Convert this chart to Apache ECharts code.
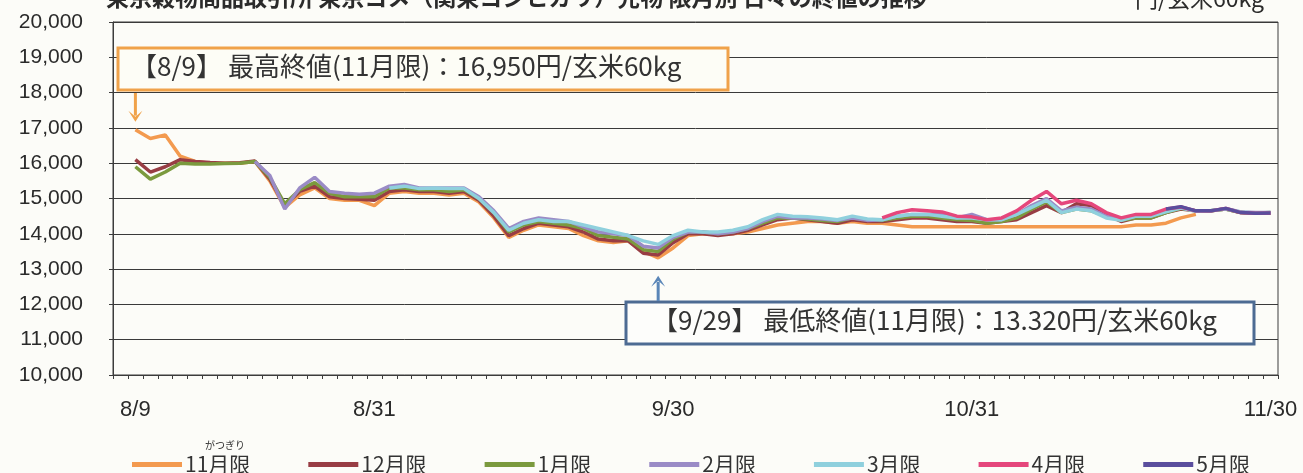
<!DOCTYPE html>
<html>
<head>
<meta charset="utf-8">
<script src="https://cdn.jsdelivr.net/npm/echarts@6/dist/echarts.min.js"></script>
<style>
  html, body { margin: 0; padding: 0; background: #fcfcf8; }
  #chart { width: 1303px; height: 473px; }
</style>
</head>
<body>
<div id="chart"></div>
<script>
// Trading days, 2011 (8/8 opens the axis with no close yet)
const dates = [
  '8/8','8/9','8/10','8/11','8/12','8/15','8/16','8/17','8/18','8/19',
  '8/22','8/23','8/24','8/25','8/26','8/29','8/30','8/31',
  '9/1','9/2','9/5','9/6','9/7','9/8','9/9','9/12','9/13','9/14','9/15','9/16',
  '9/20','9/21','9/22','9/26','9/27','9/28','9/29','9/30',
  '10/3','10/4','10/5','10/6','10/7','10/11','10/12','10/13','10/14',
  '10/17','10/18','10/19','10/20','10/21','10/24','10/25','10/26','10/27','10/28','10/31',
  '11/1','11/2','11/4','11/7','11/8','11/9','11/10','11/11','11/14','11/15','11/16',
  '11/17','11/18','11/21','11/22','11/24','11/25','11/28','11/29','11/30'
];
const tickLabels = ['8/9', '8/31', '9/30', '10/31', '11/30'];
const yTicks = { min: 10000, max: 20000, step: 1000 };

// Closing prices (円/玄米60kg) by contract month; each list starts at the given date
const nov = { start: '8/9', values: [
  16950,16700,16800,16200,16050,16000,16000,16000,16050,
  15500,14750,15100,15300,15000,14950,14950,14800,
  15150,15200,15150,15150,15100,15150,14900,14450,13900,14100,14250,14200,
  14150,13950,13800,13750,13800,13500,13320,13600,
  13950,14000,13980,14000,14050,14150,14250,14300,14350,
  14350,14300,14350,14300,14300,14250,14200,14200,14200,14200,14200,
  14200,14200,14200,14200,14200,14200,14200,14200,14200,14200,14250,
  14250,14300,14450,14550
]};
const dec = { start: '8/9', values: [
  16100,15750,15900,16100,16050,16020,16000,16010,16060,
  15550,14800,15200,15350,15050,15000,14980,14950,
  15200,15250,15200,15200,15150,15200,14950,14500,13950,14150,14300,14250,
  14200,14050,13850,13800,13800,13450,13400,13750,
  14000,14000,13950,14000,14100,14250,14400,14450,14400,
  14350,14300,14400,14350,14350,14400,14450,14450,14400,14350,14350,
  14300,14350,14400,14600,14800,14600,14850,14800,14550,14350,14450,
  14450,14600,14700,14650,14650,14700,14600,14580,14580
]};
const jan = { start: '8/9', values: [
  15900,15550,15750,16000,15980,15980,15990,16000,16050,
  15600,14850,15250,15450,15150,15050,15050,15050,
  15300,15300,15250,15250,15200,15250,15000,14600,14050,14250,14350,14300,
  14250,14150,13950,13900,13850,13550,13500,13850,
  14050,14050,14000,14050,14150,14300,14450,14450,14420,
  14380,14350,14450,14400,14380,14450,14500,14500,14450,14400,14380,
  14300,14350,14450,14700,14900,14600,14700,14650,14500,14380,14450,
  14450,14600,14720,14650,14650,14700,14600,14580,14600
]};
const feb = { start: '8/19', values: [
  16050,
  15650,14700,15300,15600,15200,15150,15120,15150,
  15350,15400,15300,15300,15300,15300,15050,14650,14150,14350,14450,14400,
  14350,14200,14050,14000,13950,13650,13600,13900,
  14050,14050,14000,14050,14150,14350,14500,14450,14450,
  14420,14380,14450,14380,14400,14500,14550,14550,14550,14450,14550,
  14400,14400,14550,14800,15000,14650,14750,14700,14500,14400,14500,
  14500,14650,14750,14650,14650,14720,14620,14600,14600
]};
const mar = { start: '9/1', values: [
  15300,15350,15280,15300,15280,15280,15000,14600,14100,14300,14400,14350,
  14350,14250,14150,14050,13950,13800,13700,13950,
  14100,14050,14050,14100,14200,14400,14550,14500,14480,
  14450,14400,14500,14420,14400,14500,14550,14550,14500,14450,14450,
  14400,14400,14550,14750,14950,14600,14700,14650,14450,14380,14500,
  14500,14620,14730,14640,14660,14700,14620,14590,14600
]};
const apr = { start: '10/21', values: [
  14450,14600,14680,14650,14620,14500,14480,
  14400,14450,14650,14950,15200,14850,14950,14850,14600,14450,14550,
  14550,14700,14760,14650,14650,14720,14600,14580,14590
]};
const may = { start: '11/18', values: [
  14700,14770,14650,14650,14720,14600,14580,14590
]};

const seriesDefs = [
  { name: '11月限', color: '#f39a4f', src: nov },
  { name: '12月限', color: '#983d44', src: dec },
  { name: '1月限',  color: '#7b9a3e', src: jan },
  { name: '2月限',  color: '#9a8bc6', src: feb },
  { name: '3月限',  color: '#8fd0dd', src: mar },
  { name: '4月限',  color: '#e5477c', src: apr },
  { name: '5月限',  color: '#5a4e9d', src: may }
];

// place each contract's closes on the shared date axis
function onAxis(src) {
  const out = dates.map(() => null);
  const first = dates.indexOf(src.start);
  src.values.forEach((v, i) => { out[first + i] = v; });
  return out;
}

const labelIdx = tickLabels.map(t => dates.indexOf(t));
const JP = '"Noto Sans CJK JP", "Noto Sans", sans-serif';
const NUM = '"Liberation Sans", Arial, sans-serif';

const chart = echarts.init(document.getElementById('chart'), null, { renderer: 'canvas' });

chart.setOption({
  backgroundColor: '#fcfcf8',
  animation: false,
  grid: {
    left: 113, right: 25, top: 22, bottom: 98,
    show: true, borderColor: '#3c3c3c', borderWidth: 1, backgroundColor: 'transparent'
  },
  legend: {
    top: 449, left: 127,
    icon: 'rect', itemWidth: 50, itemHeight: 5, itemGap: 58,
    textStyle: { fontFamily: JP, fontSize: 21, color: '#333', padding: [0, 0, 0, -2] },
    data: seriesDefs.map(s => s.name)
  },
  xAxis: {
    type: 'category',
    data: dates,
    boundaryGap: true,
    axisLine: { lineStyle: { color: '#3c3c3c', width: 1 } },
    axisTick: { show: true, interval: 0, length: 4, lineStyle: { color: '#3c3c3c' } },
    axisLabel: {
      interval: (i) => labelIdx.includes(i),
      margin: 24, fontFamily: NUM, fontSize: 22, color: '#2a2a2a'
    },
    splitLine: { show: false }
  },
  yAxis: {
    type: 'value',
    min: yTicks.min, max: yTicks.max, interval: yTicks.step,
    axisLine: { show: true, lineStyle: { color: '#3c3c3c' } },
    axisTick: { show: true, length: 4, lineStyle: { color: '#3c3c3c' } },
    axisLabel: {
      margin: 30, fontFamily: NUM, fontSize: 21, color: '#2a2a2a',
      formatter: v => v.toLocaleString('en-US')
    },
    splitLine: { lineStyle: { color: '#3a3a3a', width: 1 } }
  },
  series: seriesDefs.map(s => ({
    name: s.name,
    type: 'line',
    data: onAxis(s.src),
    symbol: 'none',
    connectNulls: false,
    color: s.color,
    lineStyle: { width: 3.5, color: s.color },
    emphasis: { disabled: true }
  }))
});

// callouts for the highest and lowest closes of the November contract
const hiVal = Math.max(...nov.values), loVal = Math.min(...nov.values);
const hiIdx = dates.indexOf(nov.start) + nov.values.indexOf(hiVal);
const loIdx = dates.indexOf(nov.start) + nov.values.indexOf(loVal);
const hi = chart.convertToPixel({ gridIndex: 0 }, [hiIdx, hiVal]);
const lo = chart.convertToPixel({ gridIndex: 0 }, [loIdx, loVal]);

const orange = '#f0a24a';
const steel = '#4d6b93';
const arrowBlue = '#5a86b8';
const hiTip = hi[1] - 8, hiTail = 93;
const loTip = lo[1] + 18, loTail = 301;

chart.setOption({
  graphic: [
    // heading and unit, running off the top edge
    { type: 'text', left: 106, top: -14, z: 50,
      style: { text: '東京穀物商品取引所 東京コメ（関東コシヒカリ）先物 限月別 日々の終値の推移', fontFamily: JP, fontSize: 23, fontWeight: 'bold', fill: '#2b2b2b' } },
    { type: 'text', left: 1135, top: -13, z: 50,
      style: { text: '円/玄米60kg', fontFamily: JP, fontSize: 23, fill: '#2b2b2b' } },

    // highest close
    { type: 'rect', z: 40, shape: { x: 118, y: 48, width: 610, height: 42 },
      style: { fill: '#fdfdf6', stroke: orange, lineWidth: 3 } },
    { type: 'text', z: 41, left: 131, top: 53,
      style: { text: '【8/9】 最高終値(11月限)：16,950円/玄米60kg', fontFamily: JP, fontSize: 26, fill: '#333' } },
    { type: 'line', z: 42, shape: { x1: hi[0], y1: hiTail, x2: hi[0], y2: hiTip - 6 },
      style: { stroke: orange, lineWidth: 3 } },
    { type: 'polygon', z: 42, shape: { points: [[hi[0] - 7, hiTip - 11], [hi[0], hiTip - 5], [hi[0] + 7, hiTip - 11], [hi[0], hiTip]] },
      style: { fill: orange } },

    // lowest close
    { type: 'rect', z: 40, shape: { x: 626, y: 302, width: 628, height: 42 },
      style: { fill: '#fdfdfb', stroke: steel, lineWidth: 3 } },
    { type: 'text', z: 41, left: 652, top: 307,
      style: { text: '【9/29】 最低終値(11月限)：13.320円/玄米60kg', fontFamily: JP, fontSize: 26, fill: '#333' } },
    { type: 'line', z: 42, shape: { x1: lo[0], y1: loTail, x2: lo[0], y2: loTip + 6 },
      style: { stroke: arrowBlue, lineWidth: 3 } },
    { type: 'polygon', z: 42, shape: { points: [[lo[0] - 7, loTip + 11], [lo[0], loTip + 5], [lo[0] + 7, loTip + 11], [lo[0], loTip]] },
      style: { fill: arrowBlue } },

    // reading aid above the first legend entry
    { type: 'text', z: 41, left: 205, top: 440,
      style: { text: 'がつぎり', fontFamily: JP, fontSize: 10, fill: '#333' } }
  ]
});
</script>
</body>
</html>
